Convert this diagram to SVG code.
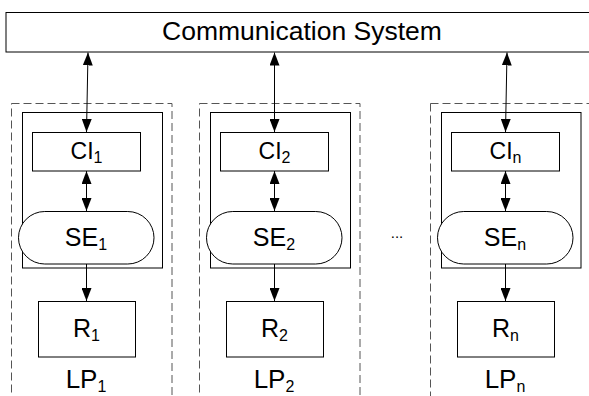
<svg xmlns="http://www.w3.org/2000/svg" width="589" height="396" viewBox="0 0 589 396">
<style>
  text { font-family: "Liberation Sans", Arial, sans-serif; fill: #000; text-anchor: middle; }
  .box { fill: #fff; stroke: #000; stroke-width: 1; }
  .lp { fill: none; stroke: #555; stroke-width: 1; stroke-dasharray: 8 4; }
  .grp { fill: none; stroke: #000; stroke-width: 1; }
  .conn { stroke: #000; stroke-width: 1; fill: none; }
  .lbl { font-size: 23px; }
  .big { font-size: 25px; }
  .sub { font-size: 16px; }
</style>
<defs>
  <marker id="ah" viewBox="0 0 13 10" refX="13" refY="5" markerWidth="13" markerHeight="10" markerUnits="userSpaceOnUse" orient="auto-start-reverse">
    <path d="M0,0 L13,5 L0,10 z" fill="#000"/>
  </marker>
</defs>

<g id="comm">
  <rect class="box" x="6" y="12.5" width="600" height="39.5"/>
  <text x="302" y="40" style="font-size:26.5px">Communication System</text>
</g>

<g id="lp1">
  <rect class="lp" x="11.5" y="103.5" width="160.5" height="320"/>
  <rect class="grp" x="22.5" y="112.5" width="140" height="155.5"/>
  <text x="86" y="388" style="font-size:26px">LP<tspan class="sub" dy="4">1</tspan></text>
</g>
<g id="ci1">
  <rect class="box" x="32.5" y="132.5" width="108" height="38.5"/>
  <text class="lbl" x="86.5" y="159">CI<tspan class="sub" dy="4">1</tspan></text>
</g>
<g id="se1">
  <rect class="box" x="18.5" y="211.5" width="135.5" height="52.5" rx="26.25"/>
  <text class="big" x="86" y="246">SE<tspan class="sub" dy="4">1</tspan></text>
</g>
<g id="r1">
  <rect class="box" x="38.5" y="301.5" width="97" height="55.5"/>
  <text class="big" x="86.5" y="337">R<tspan class="sub" dy="4">1</tspan></text>
</g>

<g id="lp2">
  <rect class="lp" x="199.5" y="103.5" width="160.5" height="320"/>
  <rect class="grp" x="210.5" y="112.5" width="140" height="155.5"/>
  <text x="274" y="388" style="font-size:26px">LP<tspan class="sub" dy="4">2</tspan></text>
</g>
<g id="ci2">
  <rect class="box" x="220.5" y="132.5" width="108" height="38.5"/>
  <text class="lbl" x="274.5" y="159">CI<tspan class="sub" dy="4">2</tspan></text>
</g>
<g id="se2">
  <rect class="box" x="206.5" y="211.5" width="135.5" height="52.5" rx="26.25"/>
  <text class="big" x="274" y="246">SE<tspan class="sub" dy="4">2</tspan></text>
</g>
<g id="r2">
  <rect class="box" x="226.5" y="301.5" width="97" height="55.5"/>
  <text class="big" x="274.5" y="337">R<tspan class="sub" dy="4">2</tspan></text>
</g>

<g id="lpn">
  <rect class="lp" x="430.5" y="103.5" width="200" height="320"/>
  <rect class="grp" x="441.5" y="112.5" width="139.5" height="155.5"/>
  <text x="505" y="388" style="font-size:26px">LP<tspan class="sub" dy="4">n</tspan></text>
</g>
<g id="cin">
  <rect class="box" x="451.5" y="132.5" width="108" height="38.5"/>
  <text class="lbl" x="505.5" y="159">CI<tspan class="sub" dy="4">n</tspan></text>
</g>
<g id="sen">
  <rect class="box" x="437.5" y="211.5" width="135.5" height="52.5" rx="26.25"/>
  <text class="big" x="505" y="246">SE<tspan class="sub" dy="4">n</tspan></text>
</g>
<g id="rn">
  <rect class="box" x="457.5" y="301.5" width="97" height="55.5"/>
  <text class="big" x="505.5" y="337">R<tspan class="sub" dy="4">n</tspan></text>
</g>

<g id="ellipsis">
  <text x="397" y="238" style="font-size:15px">...</text>
</g>

<g id="connectors">
  <line class="conn" x1="88" y1="52.5" x2="86.5" y2="132" marker-start="url(#ah)" marker-end="url(#ah)"/>
  <line class="conn" x1="274.5" y1="52.5" x2="274.5" y2="132" marker-start="url(#ah)" marker-end="url(#ah)"/>
  <line class="conn" x1="507" y1="52.5" x2="505.5" y2="132" marker-start="url(#ah)" marker-end="url(#ah)"/>
  <line class="conn" x1="86.5" y1="171" x2="86.5" y2="211" marker-start="url(#ah)" marker-end="url(#ah)"/>
  <line class="conn" x1="274.5" y1="171" x2="274.5" y2="211" marker-start="url(#ah)" marker-end="url(#ah)"/>
  <line class="conn" x1="505.5" y1="171" x2="505.5" y2="211" marker-start="url(#ah)" marker-end="url(#ah)"/>
  <line class="conn" x1="86.5" y1="264" x2="86.5" y2="301" marker-end="url(#ah)"/>
  <line class="conn" x1="274.5" y1="264" x2="274.5" y2="301" marker-end="url(#ah)"/>
  <line class="conn" x1="505.5" y1="264" x2="505.5" y2="301" marker-end="url(#ah)"/>
</g>
</svg>
